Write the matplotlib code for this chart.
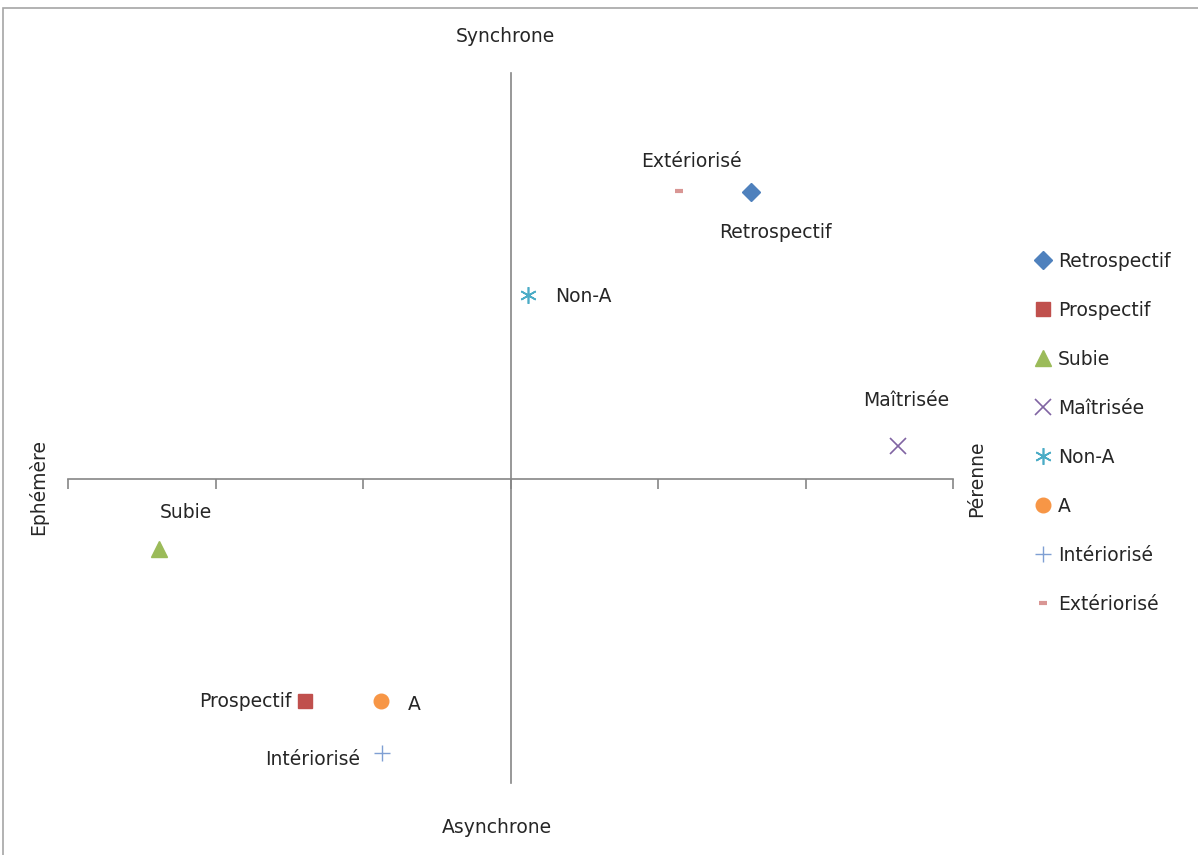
import matplotlib.pyplot as plt
from matplotlib.patches import Rectangle

plt.rcParams['font.family'] = ['DejaVu Sans']

names = ["Retrospectif", "Prospectif", "Subie", "Maîtrisée",
         "Non-A", "A", "Intériorisé", "Extériorisé"]
xs = [1.63, -1.39, -2.38, 2.63, 0.12, -0.88, -0.87, 1.14]
ys = [2.83, -2.19, -0.69, 0.32, 1.81, -2.19, -2.70, 2.84]

colors = ["#4F81BD", "#C0504D", "#9BBB59", "#8064A2",
          "#4BACC6", "#F79646", "#7F9FD3", "#D99694"]
markers = ["D", "s", "^", "x", (6, 2, 0), "o", "+", "_"]
sizes = [9, 10, 11, 12, 12, 10.5, 12, 6]
edge_w = [1, 1, 1, 1.2, 1.2, 1, 1, 3]

# label offsets in pixels and alignment per point
offsets = [(24, -41, "center"), (-14, -1, "right"), (26, 36, "center"),
           (8, 46, "center"), (27, -1, "left"), (27, -4, "left"),
           (-22, -7, "right"), (13, 29, "center")]

FS = 13.5
TXT = "#262626"

fig = plt.figure(figsize=(11.98, 8.55), dpi=100)
fig.patches.append(Rectangle((3 / 1198, -0.1), 1.2, 1 - 8 / 855 + 0.1,
                             transform=fig.transFigure, fill=False,
                             edgecolor="#A6A6A6", lw=1.2))

ax = fig.add_axes([68 / 1198, 72 / 855, 885 / 1198, 710 / 855])
ax.set_xlim(-3, 3)
ax.set_ylim(-3, 4)

for i, name in enumerate(names):
    ax.plot(xs[i], ys[i], linestyle="none", marker=markers[i],
            markersize=sizes[i], color=colors[i], markeredgewidth=edge_w[i],
            label=name, clip_on=False, zorder=3)
    dx, dy, ha = offsets[i]
    ax.annotate(name, (xs[i], ys[i]), xytext=(dx, dy),
                textcoords="offset pixels", ha=ha, va="center",
                fontsize=FS, color=TXT)

# axes crossing at the origin
for side in ["top", "right"]:
    ax.spines[side].set_visible(False)
ax.spines["bottom"].set_position(("data", 0))
ax.spines["left"].set_position(("data", 0))
for side in ["bottom", "left"]:
    ax.spines[side].set_color("#868686")
    ax.spines[side].set_linewidth(1.2)
ax.set_xticks(range(-3, 4))
ax.set_xticklabels([])
ax.tick_params(axis="x", direction="out", length=7, width=1.2, color="#868686")
ax.set_yticks([])

fig.text(505 / 1198, 1 - 37 / 855, "Synchrone", ha="center", va="center",
         fontsize=FS, color=TXT)
fig.text(497 / 1198, 1 - 827 / 855, "Asynchrone", ha="center", va="center",
         fontsize=FS, color=TXT)
fig.text(38 / 1198, 1 - 487 / 855, "Ephémère", rotation=90, ha="center",
         va="center", fontsize=FS, color=TXT)
fig.text(977 / 1198, 1 - 479 / 855, "Pérenne", rotation=90, ha="center",
         va="center", fontsize=FS, color=TXT)

ax.legend(loc="center left", bbox_to_anchor=(1027 / 1198, 1 - 433 / 855),
          bbox_transform=fig.transFigure, frameon=False, fontsize=FS,
          handlelength=0.7, handletextpad=0.45, labelspacing=1.6,
          borderpad=0, labelcolor=TXT)

fig.savefig("out.png", dpi=100)
